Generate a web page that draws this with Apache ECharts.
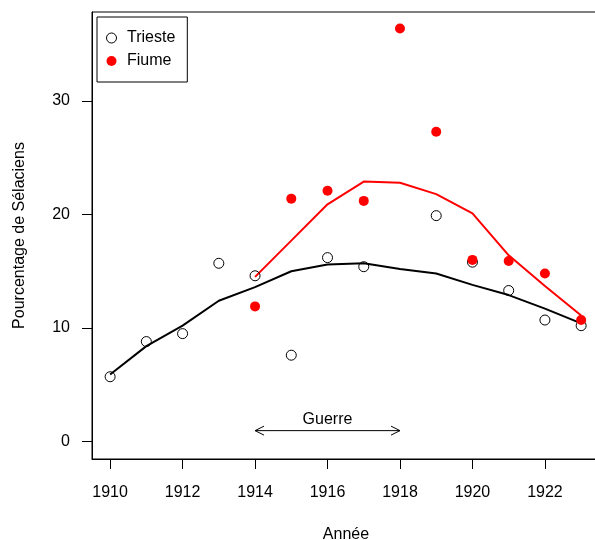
<!DOCTYPE html>
<html>
<head>
<meta charset="utf-8">
<script src="https://cdn.jsdelivr.net/npm/echarts@6/dist/echarts.min.js"></script>
<style>
  html, body { margin: 0; padding: 0; background: #fff; }
  #chart { width: 595px; height: 540px; }
</style>
</head>
<body>
<div id="chart"></div>
<script>
// années
const years = [1910, 1911, 1912, 1913, 1914, 1915, 1916, 1917, 1918, 1919, 1920, 1921, 1922, 1923]
const xTicks = [1910, 1912, 1914, 1916, 1918, 1920, 1922]
const yTicks = [0, 10, 20, 30]

// points observés (null = pas de donnée)
const triesteValues = [5.7, 8.8, 9.5, 15.7, 14.6, 7.6, 16.2, 15.4, null, 19.9, 15.8, 13.3, 10.7, 10.2]
const fiumeValues = [null, null, null, null, 11.9, 21.4, 22.1, 21.2, 36.4, 27.3, 16.0, 15.9, 14.8, 10.7]

// courbes lissées
const triesteSmooth = [5.9, 8.4, 10.2, 12.4, 13.6, 15.0, 15.6, 15.7, 15.2, 14.8, 13.8, 12.9, 11.7, 10.4]
const fiumeSmooth = [null, null, null, null, 14.5, 17.7, 20.9, 22.9, 22.8, 21.8, 20.1, 16.4, 13.7, 11.1]

// flèche "Guerre"
const warStart = 1914
const warEnd = 1918
const arrowY = 0.95

const pairs = (vals) => years.map((y, i) => [y, vals[i]]).filter(p => p[1] !== null)

const font = 'Liberation Sans, Arial, sans-serif'
const chart = echarts.init(document.getElementById('chart'), null, { renderer: 'canvas' })

chart.setOption({
  animation: false,
  backgroundColor: '#fff',
  textStyle: { fontFamily: font },
  grid: {
    left: 92,
    top: 12,
    width: 508,
    height: 447,
    containLabel: false,
    outerBoundsMode: 'none',
    show: true,
    borderColor: '#000',
    borderWidth: 1,
  },
  legend: {
    left: 97,
    top: 17,
    orient: 'vertical',
    borderColor: '#000',
    borderWidth: 1,
    padding: [13, 12, 13, 9],
    itemWidth: 21,
    itemHeight: 10,
    itemGap: 7,
    textStyle: { fontSize: 16, color: '#000', fontFamily: font, lineHeight: 14 },
    data: [
      { name: 'Trieste', itemStyle: { borderWidth: 1 } },
      { name: 'Fiume' },
    ],
  },
  xAxis: {
    type: 'value',
    min: 1909.5,
    max: 1923.52,
    name: 'Année',
    nameLocation: 'middle',
    nameGap: 68,
    nameTextStyle: { fontSize: 16, color: '#000', fontFamily: font },
    splitLine: { show: false },
    axisLine: { show: true, onZero: false, lineStyle: { color: '#000', width: 1 } },
    axisTick: { show: true, inside: false, length: 10, lineStyle: { color: '#000' }, customValues: xTicks },
    axisLabel: {
      margin: 26,
      fontSize: 16,
      color: '#000',
      fontFamily: font,
      customValues: xTicks,
      formatter: (v) => String(v),
    },
  },
  yAxis: {
    type: 'value',
    min: -1.55,
    max: 37.85,
    name: 'Pourcentage de Sélaciens',
    nameLocation: 'middle',
    nameGap: 64,
    nameRotate: 90,
    nameTextStyle: { fontSize: 16, color: '#000', fontFamily: font },
    splitLine: { show: false },
    axisLine: { show: true, onZero: false, lineStyle: { color: '#000', width: 1 } },
    axisTick: { show: true, inside: false, length: 10, lineStyle: { color: '#000' }, customValues: yTicks },
    axisLabel: {
      margin: 22,
      fontSize: 16,
      color: '#000',
      fontFamily: font,
      customValues: yTicks,
    },
  },
  series: [
    {
      name: 'lissage Trieste',
      type: 'line',
      data: pairs(triesteSmooth),
      symbol: 'none',
      lineStyle: { color: '#000', width: 2 },
      z: 2,
    },
    {
      name: 'lissage Fiume',
      type: 'line',
      data: pairs(fiumeSmooth),
      symbol: 'none',
      lineStyle: { color: '#ff0000', width: 2 },
      z: 2,
    },
    {
      name: 'Trieste',
      type: 'scatter',
      data: pairs(triesteValues),
      symbol: 'circle',
      symbolSize: 10,
      itemStyle: { color: 'rgba(0,0,0,0)', borderColor: '#000', borderWidth: 1, opacity: 1 },
      z: 3,
    },
    {
      name: 'Fiume',
      type: 'scatter',
      data: pairs(fiumeValues),
      symbol: 'circle',
      symbolSize: 10,
      itemStyle: { color: '#ff0000', opacity: 1 },
      z: 4,
    },
    {
      name: 'Guerre',
      type: 'custom',
      data: [[warStart, warEnd, arrowY]],
      encode: { x: [0, 1], y: 2 },
      renderItem: (params, api) => {
        const a = api.coord([api.value(0), api.value(2)])
        const b = api.coord([api.value(1), api.value(2)])
        const h = 9
        const w = 4.5
        const stroke = { stroke: '#000', lineWidth: 1, fill: null }
        return {
          type: 'group',
          children: [
            { type: 'line', shape: { x1: a[0], y1: a[1], x2: b[0], y2: b[1] }, style: stroke },
            { type: 'polyline', shape: { points: [[a[0] + h, a[1] - w], [a[0], a[1]], [a[0] + h, a[1] + w]] }, style: stroke },
            { type: 'polyline', shape: { points: [[b[0] - h, b[1] - w], [b[0], b[1]], [b[0] - h, b[1] + w]] }, style: stroke },
            {
              type: 'text',
              x: (a[0] + b[0]) / 2,
              y: a[1] - 11,
              style: {
                text: 'Guerre',
                fill: '#000',
                font: '16px ' + font,
                align: 'center',
                verticalAlign: 'middle',
              },
            },
          ],
        }
      },
      z: 5,
    },
  ],
})

window.addEventListener('resize', () => {
  chart.resize()
})
</script>
</body>
</html>
